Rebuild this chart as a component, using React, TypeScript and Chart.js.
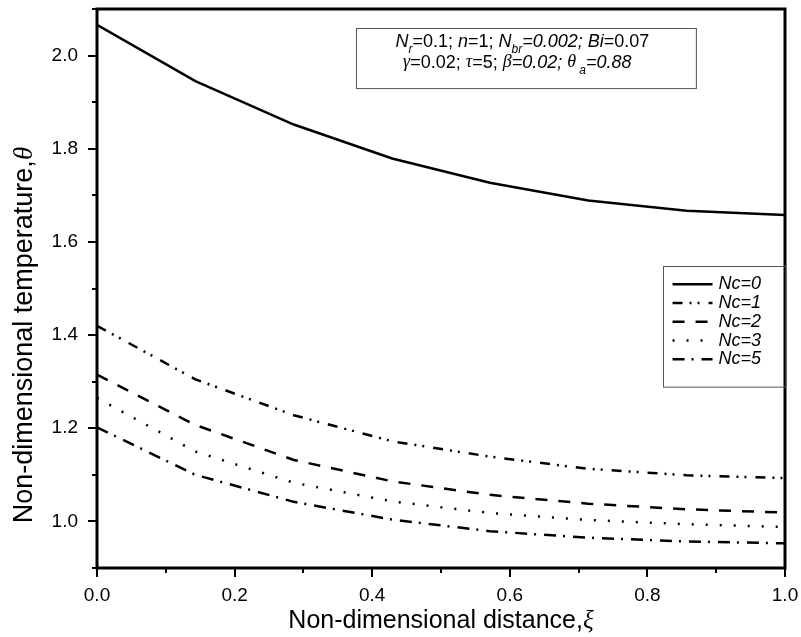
import React, { useEffect, useRef } from "react";
import { Chart, registerables } from "chart.js";

Chart.register(...registerables);

const xi = [0, 0.143, 0.286, 0.429, 0.571, 0.714, 0.857, 1.0];
const nc0 = [2.066, 1.945, 1.852, 1.779, 1.727, 1.689, 1.667, 1.658];
const nc1 = [1.42, 1.305, 1.228, 1.172, 1.139, 1.113, 1.099, 1.093];
const nc2 = [1.315, 1.207, 1.132, 1.086, 1.057, 1.038, 1.026, 1.019];
const nc3 = [1.265, 1.15, 1.083, 1.043, 1.018, 1.003, 0.994, 0.988];
const nc5 = [1.202, 1.1, 1.042, 1.004, 0.979, 0.965, 0.957, 0.953];

const seriesLabels = ["Nc=0", "Nc=1", "Nc=2", "Nc=3", "Nc=5"];
const seriesValues = [nc0, nc1, nc2, nc3, nc5];
const seriesDash: number[][] = [[], [10, 7, 2, 6, 2, 9], [12, 11], [2, 12], [12, 7, 2, 8]];

const xTickLabels = ["0.0", "0.2", "0.4", "0.6", "0.8", "1.0"];
const yTickLabels = ["1.0", "1.2", "1.4", "1.6", "1.8", "2.0"];

const xTitle = "Non-dimensional distance,";
const yTitle = "Non-dimensional temperature,";

const SANS = '"Liberation Sans", Arial, sans-serif';
const SERIF = '"Liberation Serif", "DejaVu Serif", serif';

type Run = { t: string; it?: boolean; sub?: boolean; serif?: boolean };

const infoLine1: Run[] = [
  { t: "N", it: true }, { t: "r", it: true, sub: true }, { t: "=0.1; " },
  { t: "n", it: true }, { t: "=1; " },
  { t: "N", it: true }, { t: "br", it: true, sub: true }, { t: "=0.002; ", it: true },
  { t: "Bi", it: true }, { t: "=0.07" },
];
const infoLine2: Run[] = [
  { t: "\u03b3", it: true, serif: true }, { t: "=0.02; " },
  { t: "\u03c4", it: true, serif: true }, { t: "=5; " },
  { t: "\u03b2", it: true, serif: true }, { t: "=0.02; ", it: true },
  { t: "\u03b8", it: true, serif: true }, { t: " a", it: true, sub: true }, { t: "=0.88", it: true },
];

function runFont(r: Run, size: number) {
  const s = r.sub ? Math.round(size * 0.65) : size;
  return `${r.it ? "italic " : ""}${s}px ${r.serif ? SERIF : SANS}`;
}

function drawRuns(ctx: CanvasRenderingContext2D, runs: Run[], cx: number, cy: number, size: number) {
  let total = 0;
  for (const r of runs) {
    ctx.font = runFont(r, size);
    total += ctx.measureText(r.t).width;
  }
  let x = cx - total / 2;
  ctx.textBaseline = "middle";
  ctx.textAlign = "left";
  for (const r of runs) {
    ctx.font = runFont(r, size);
    ctx.fillText(r.t, x, r.sub ? cy + size * 0.42 : cy);
    x += ctx.measureText(r.t).width;
  }
}

const decorPlugin = {
  id: "decor",
  afterDraw(chart: any) {
    const ctx: CanvasRenderingContext2D = chart.ctx;
    const { left, right, top, bottom } = chart.chartArea;
    const xs = chart.scales.x;
    const ys = chart.scales.y;
    ctx.save();
    ctx.strokeStyle = "#000";
    ctx.fillStyle = "#000";
    ctx.setLineDash([]);

    // ticks x
    ctx.lineWidth = 2;
    for (let i = 0; i <= 10; i++) {
      const v = i / 10;
      const px = Math.round(xs.getPixelForValue(v));
      const len = i % 2 === 0 ? 9 : 5;
      ctx.beginPath();
      ctx.moveTo(px, bottom);
      ctx.lineTo(px, bottom + len);
      ctx.stroke();
    }
    // ticks y
    for (let i = 0; i <= 12; i++) {
      const v = 0.9 + i * 0.1;
      const py = Math.round(ys.getPixelForValue(v));
      const len = i % 2 === 1 ? 9 : 5;
      ctx.beginPath();
      ctx.moveTo(left, py);
      ctx.lineTo(left - len, py);
      ctx.stroke();
    }

    // frame
    ctx.lineWidth = 3;
    ctx.strokeRect(left, top, right - left, bottom - top);

    // tick labels
    ctx.font = `19px ${SANS}`;
    ctx.textAlign = "center";
    ctx.textBaseline = "middle";
    xTickLabels.forEach((lab) => {
      ctx.fillText(lab, xs.getPixelForValue(parseFloat(lab)), bottom + 28);
    });
    ctx.textAlign = "right";
    yTickLabels.forEach((lab) => {
      ctx.fillText(lab, left - 19, ys.getPixelForValue(parseFloat(lab)));
    });

    // x title
    drawRuns(ctx, [{ t: xTitle }, { t: "\u03be", it: true, serif: true }], (left + right) / 2, bottom + 53, 25);

    // y title
    ctx.save();
    ctx.translate(25, ys.getPixelForValue(1.4));
    ctx.rotate(-Math.PI / 2);
    drawRuns(ctx, [{ t: yTitle }, { t: "\u03b8", it: true, serif: true }], 0, 0, 27);
    ctx.restore();

    // info box
    const bx0 = xs.getPixelForValue(0.377);
    const bx1 = xs.getPixelForValue(0.871);
    const by0 = ys.getPixelForValue(2.06);
    const by1 = ys.getPixelForValue(1.931);
    ctx.lineWidth = 1;
    ctx.strokeStyle = "#555";
    ctx.strokeRect(Math.round(bx0) + 0.5, Math.round(by0) + 0.5, bx1 - bx0, by1 - by0);
    ctx.fillStyle = "#000";
    const bcx = (bx0 + bx1) / 2;
    drawRuns(ctx, infoLine1, bcx - 4, by0 + 14, 18);
    drawRuns(ctx, infoLine2, bcx - 9, by0 + 35, 18);

    // legend
    const lx0 = xs.getPixelForValue(0.822);
    const ly0 = ys.getPixelForValue(1.548);
    const ly1 = ys.getPixelForValue(1.289);
    ctx.strokeStyle = "#555";
    ctx.lineWidth = 1;
    ctx.strokeRect(Math.round(lx0) + 0.5, Math.round(ly0) + 0.5, right - lx0, ly1 - ly0);
    chart.data.datasets.forEach((ds: any, i: number) => {
      const y = ly0 + 18 + i * 18.8;
      ctx.strokeStyle = "#000";
      ctx.lineWidth = 2.5;
      ctx.setLineDash(ds.borderDash || []);
      ctx.beginPath();
      ctx.moveTo(lx0 + 10, y);
      ctx.lineTo(lx0 + 50, y);
      ctx.stroke();
      ctx.setLineDash([]);
      ctx.font = `italic 18px ${SANS}`;
      ctx.textAlign = "left";
      ctx.textBaseline = "middle";
      ctx.fillStyle = "#000";
      ctx.fillText(ds.label, lx0 + 56, y);
    });
    ctx.restore();
  },
};

export default function App() {
  const ref = useRef<HTMLCanvasElement | null>(null);
  useEffect(() => {
    if (!ref.current) return;
    const chart = new Chart(ref.current, {
      type: "line",
      data: {
        datasets: seriesLabels.map((label, i) => ({
          label,
          data: xi.map((x, j) => ({ x, y: seriesValues[i][j] })),
          borderColor: "#000",
          backgroundColor: "#000",
          borderWidth: 2.5,
          borderDash: seriesDash[i],
          pointRadius: 0,
          tension: 0,
          fill: false,
        })),
      },
      options: {
        animation: false,
        responsive: false,
        devicePixelRatio: 1,
        layout: { padding: { top: 9, right: 16, left: 0, bottom: 0 } },
        plugins: { legend: { display: false }, tooltip: { enabled: false } },
        scales: {
          x: {
            type: "linear",
            min: 0,
            max: 1,
            grid: { display: false, drawTicks: false },
            border: { display: false },
            ticks: { display: false },
            afterFit: (s: any) => { s.height = 69; },
          },
          y: {
            type: "linear",
            min: 0.9,
            max: 2.1,
            grid: { display: false, drawTicks: false },
            border: { display: false },
            ticks: { display: false },
            afterFit: (s: any) => { s.width = 97; },
          },
        },
      },
      plugins: [decorPlugin],
    });
    return () => chart.destroy();
  }, []);
  return (
    <div style={{ position: "fixed", left: 0, top: 0, width: 801, height: 637, background: "#fff" }}>
      <canvas ref={ref} width={801} height={637} />
    </div>
  );
}
